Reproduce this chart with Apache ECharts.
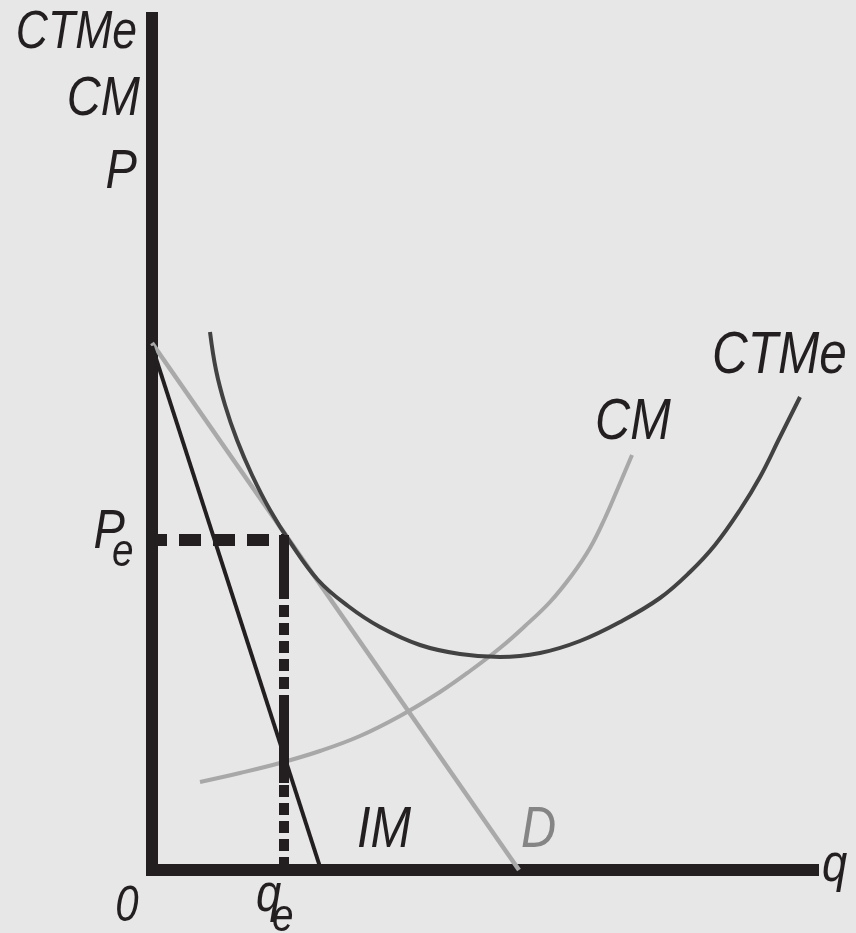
<!DOCTYPE html>
<html>
<head>
<meta charset="utf-8">
<script src="https://cdn.jsdelivr.net/npm/echarts@6/dist/echarts.min.js"></script>
<style>
  * { margin: 0; padding: 0; }
  body { background: #e7e7e7; }
  #chart { width: 856px; height: 933px; }
</style>
</head>
<body>
<div id="chart"></div>
<script>
// curves, in axis units (q to the right, price up)
const demandD = [[0, 527], [367, 0]];
const ingresoIM = [[0, 524], [169, 0]];
const costoCM = [
  [48, 88], [88, 97], [128, 107], [168, 119], [208, 134], [248, 154],
  [288, 178], [318, 199], [348, 222], [373, 244], [398, 268], [420, 295],
  [438, 322], [453, 352], [466, 382], [480, 415]
];
const costoCTMe = [
  [58, 538], [64, 500], [73, 465], [85, 430], [100, 395], [118, 360],
  [138, 328], [166, 290], [196, 264], [228, 243], [268, 225], [308, 216],
  [348, 213], [388, 217], [428, 229], [468, 248], [508, 272], [538, 298],
  [563, 325], [588, 360], [608, 393], [628, 433], [648, 473]
];
// equilibrio
const qe = 132;
const pe = 330;
const qeSolid = [[330, 278], [169, 92]]; // tramos continuos sobre la vertical punteada

const axisColor = '#231f20';
const fnt = (size) => 'italic ' + size + 'px "Liberation Sans", Arial, sans-serif';

function label(text, x, y, size, align, color) {
  return {
    type: 'text', x: x, y: y, z: 100, scaleX: 0.84,
    style: {
      text: text, font: fnt(size), fill: color || axisColor,
      align: align, verticalAlign: 'middle',
      textAlign: align, textVerticalAlign: 'middle'
    }
  };
}

const chart = echarts.init(document.getElementById('chart'));

const series = [
  { name: 'D', data: demandD, color: '#a9a9a9', width: 4.5 },
  { name: 'CM', data: costoCM, color: '#a8a8a8', width: 4, smooth: 0.4 },
  { name: 'CTMe', data: costoCTMe, color: '#424242', width: 4, smooth: 0.4 },
  { name: 'IM', data: ingresoIM, color: axisColor, width: 4 }
].map(s => ({
  type: 'line', name: s.name, data: s.data, smooth: s.smooth || false,
  symbol: 'none', silent: true,
  lineStyle: { color: s.color, width: s.width }
}));

// Pe punteada horizontal
series.push({
  type: 'line', symbol: 'none', silent: true,
  data: [[0, pe], [qe, pe]],
  lineStyle: { color: axisColor, width: 12, type: [22, 12], dashOffset: 7, cap: 'butt' }
});
// qe punteada vertical
series.push({
  type: 'line', symbol: 'none', silent: true,
  data: [[qe, pe], [qe, 0]],
  lineStyle: { color: axisColor, width: 10, type: [12, 6], dashOffset: 7, cap: 'butt' }
});
qeSolid.forEach(seg => {
  series.push({
    type: 'line', symbol: 'none', silent: true,
    data: [[qe, seg[0]], [qe, seg[1]]],
    lineStyle: { color: axisColor, width: 10, cap: 'square' }
  });
});

chart.setOption({
  backgroundColor: '#e7e7e7',
  animation: false,
  grid: { left: 152, top: 12, width: 661, height: 858 },
  xAxis: {
    type: 'value', min: 0, max: 661,
    axisLine: { show: true, onZero: false, lineStyle: { color: axisColor, width: 12, cap: 'square' } },
    axisTick: { show: false }, axisLabel: { show: false }, splitLine: { show: false }
  },
  yAxis: {
    type: 'value', min: 0, max: 858,
    axisLine: { show: true, onZero: false, lineStyle: { color: axisColor, width: 12, cap: 'butt' } },
    axisTick: { show: false }, axisLabel: { show: false }, splitLine: { show: false }
  },
  series: series,
  graphic: [
    label('CTMe', 137, 33, 53, 'right'),
    label('CM', 140, 99, 56, 'right'),
    label('P', 137, 172, 56, 'right'),
    label('P', 125, 532, 56, 'right'),
    label('e', 112, 553, 46, 'left'),
    label('0', 127, 907, 50, 'center'),
    label('q', 256, 896, 54, 'left'),
    label('e', 272, 918, 46, 'left'),
    label('q', 822, 866, 54, 'left'),
    label('IM', 357, 831, 58, 'left'),
    label('D', 521, 831, 58, 'left', '#858585'),
    label('CTMe', 712, 357, 59, 'left'),
    label('CM', 595, 423, 58, 'left')
  ]
});
</script>
</body>
</html>
